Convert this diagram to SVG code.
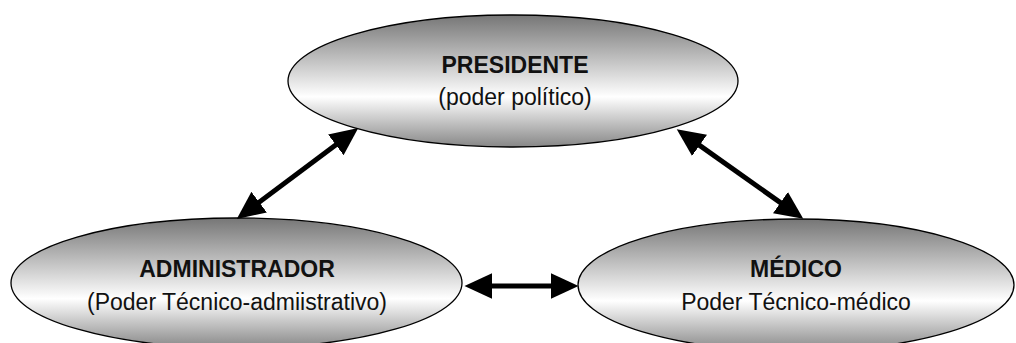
<svg xmlns="http://www.w3.org/2000/svg" width="1016" height="343" viewBox="0 0 1016 343">
  <defs>
    <linearGradient id="shade" x1="0" y1="0" x2="0" y2="1">
      <stop offset="0" stop-color="#767676"/>
      <stop offset="0.62" stop-color="#ffffff"/>
      <stop offset="1" stop-color="#878787"/>
    </linearGradient>
    <marker id="head" markerUnits="userSpaceOnUse" markerWidth="28" markerHeight="26" viewBox="0 0 26 24" refX="6" refY="12" orient="auto-start-reverse">
      <path d="M0,0 L26,12 L0,24 z" fill="#000"/>
    </marker>
  </defs>
  <style>
    .node ellipse { fill: url(#shade); stroke: #000; stroke-width: 1.3; }
    .t { font-family: "Liberation Sans", Arial, sans-serif; font-size: 23px; fill: #111; text-anchor: middle; }
    .b { font-weight: bold; }
    .conn line { stroke: #000; stroke-width: 5; marker-start: url(#head); marker-end: url(#head); }
  </style>
  <rect width="1016" height="343" fill="#fff"/>
  <g id="presidente" class="node">
    <ellipse cx="513" cy="81" rx="225" ry="66"/>
    <text class="t b" x="515" y="73">PRESIDENTE</text>
    <text class="t" x="515" y="105">(poder político)</text>
  </g>
  <g id="administrador" class="node">
    <ellipse cx="236.5" cy="283" rx="225.5" ry="65"/>
    <text class="t b" x="237" y="277">ADMINISTRADOR</text>
    <text class="t" x="237" y="310">(Poder Técnico-admiistrativo)</text>
  </g>
  <g id="medico" class="node">
    <ellipse cx="796" cy="285" rx="218" ry="66"/>
    <text class="t b" x="796" y="277">MÉDICO</text>
    <text class="t" x="796" y="310">Poder Técnico-médico</text>
  </g>
  <g id="connectors" class="conn">
    <line x1="254" y1="206" x2="341" y2="141"/>
    <line x1="694.3" y1="141.6" x2="785.7" y2="206.4"/>
    <line x1="486" y1="286" x2="557" y2="286"/>
  </g>
</svg>
